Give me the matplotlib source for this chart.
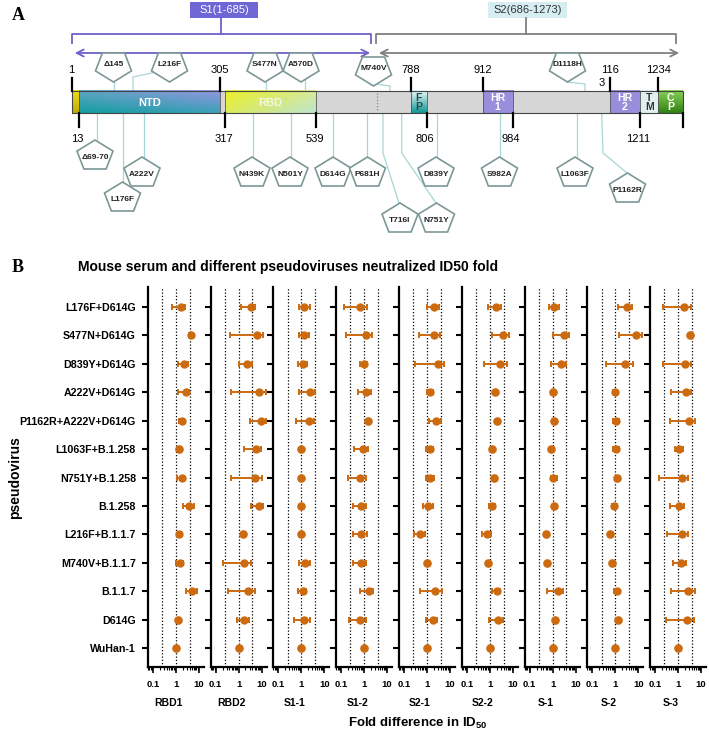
import numpy as np
import matplotlib
matplotlib.use('Agg')
import matplotlib.pyplot as plt
from matplotlib.patches import Rectangle, Polygon
from matplotlib.ticker import LogLocator, NullFormatter

plt.rcParams['font.family'] = ['Liberation Sans', 'DejaVu Sans']
plt.rcParams['mathtext.fontset'] = 'custom'
plt.rcParams['mathtext.rm'] = 'Liberation Sans'
plt.rcParams['mathtext.bf'] = 'Liberation Sans:bold'

# ---------------- panel A: spike schematic ----------------
domain_names = ['', 'NTD', '', 'RBD', '', 'F\nP', '', 'HR\n1', '', 'HR\n2', 'T\nM', 'C\nP']
domain_start = [1, 13, 305, 317, 539, 788, 806, 912, 984, 1163, 1211, 1234]
domain_end = [13, 305, 317, 539, 788, 806, 912, 984, 1163, 1211, 1234, 1273]
top_ticks = [1, 305, 788, 912, 1163, 1234]
top_tick_labels = ['1', '305', '788', '912', '116', '1234']
bottom_ticks = [13, 317, 539, 806, 984, 1211, 1273]
bottom_tick_labels = ['13', '317', '539', '806', '984', '1211', '']

muts_above = ['Δ145', 'L216F', 'S477N', 'A570D', 'M740V', 'D1118H']
muts_below = ['Δ69-70', 'A222V', 'L176F', 'N439K', 'N501Y', 'D614G', 'P681H',
              'D839Y', 'S982A', 'L1063F', 'P1162R', 'T716I', 'N751Y']

# ---------------- panel B data ----------------
pseudoviruses = ['L176F+D614G', 'S477N+D614G', 'D839Y+D614G', 'A222V+D614G',
                 'P1162R+A222V+D614G', 'L1063F+B.1.258', 'N751Y+B.1.258', 'B.1.258',
                 'L216F+B.1.1.7', 'M740V+B.1.1.7', 'B.1.1.7', 'D614G', 'WuHan-1']
sera = ['RBD1', 'RBD2', 'S1-1', 'S1-2', 'S2-1', 'S2-2', 'S-1', 'S-2', 'S-3']

rbd1_mean = [1.7, 4.6, 2.3, 2.7, 1.8, 1.4, 1.8, 3.9, 1.45, 1.55, 5.0, 1.3, 1.0]
rbd1_low = [0.72, 3.9, 1.3, 1.3, 1.45, 1.4, 1.1, 2.0, 1.25, 1.0, 2.7, 1.3, 1.0]
rbd1_high = [2.55, 5.4, 3.3, 3.9, 2.2, 1.4, 2.4, 6.3, 1.7, 2.15, 8.2, 1.3, 1.0]

rbd2_mean = [3.4, 6.3, 2.3, 7.4, 9.4, 5.5, 5.3, 7.4, 1.55, 1.8, 2.7, 1.8, 1.0]
rbd2_low = [1.26, 0.43, 1.0, 0.46, 3.2, 1.76, 0.46, 3.4, 1.55, 0.22, 0.34, 0.9, 1.0]
rbd2_high = [5.3, 12.2, 3.8, 15.4, 15.9, 9.7, 11.0, 12.2, 1.55, 3.55, 5.3, 2.9, 1.0]

s11_mean = [1.35, 1.26, 1.18, 2.3, 2.1, 1.0, 1.0, 1.0, 1.0, 1.5, 1.14, 1.35, 1.0]
s11_low = [0.82, 0.82, 0.72, 0.79, 0.6, 1.0, 1.0, 1.0, 1.0, 0.8, 0.72, 0.5, 1.0]
s11_high = [2.3, 2.1, 1.76, 3.8, 3.7, 1.0, 1.0, 1.0, 1.0, 2.4, 1.65, 2.5, 1.0]

s12_mean = [0.63, 1.18, 1.0, 1.18, 1.45, 0.88, 0.63, 0.72, 0.72, 0.72, 1.65, 0.67, 1.0]
s12_low = [0.135, 0.16, 0.63, 0.53, 1.45, 0.37, 0.2, 0.32, 0.32, 0.32, 0.67, 0.23, 1.0]
s12_high = [1.3, 2.15, 1.3, 1.9, 1.45, 1.45, 1.15, 1.18, 1.3, 1.18, 2.55, 1.18, 1.0]

s21_mean = [1.95, 2.0, 2.9, 1.3, 2.55, 1.35, 1.3, 1.12, 0.51, 0.97, 2.3, 1.8, 1.0]
s21_low = [1.0, 0.47, 0.31, 1.0, 1.18, 0.92, 0.9, 0.67, 0.28, 0.97, 0.51, 0.9, 1.0]
s21_high = [3.2, 3.7, 5.4, 1.76, 4.0, 1.9, 1.95, 1.85, 0.8, 0.97, 4.5, 2.7, 1.0]

s22_mean = [1.8, 3.9, 2.8, 1.7, 2.1, 1.26, 1.5, 1.2, 0.74, 0.82, 2.1, 2.2, 1.0]
s22_low = [0.87, 1.26, 0.57, 1.7, 2.1, 1.26, 1.5, 0.9, 0.44, 0.82, 1.26, 0.9, 1.0]
s22_high = [3.0, 6.9, 5.4, 1.7, 2.1, 1.26, 1.5, 1.7, 1.1, 0.82, 2.9, 3.8, 1.0]

s1_mean = [1.2, 3.1, 2.4, 1.03, 1.1, 0.9, 1.07, 1.14, 0.53, 0.55, 1.65, 1.26, 1.0]
s1_low = [0.7, 1.0, 0.9, 1.03, 1.1, 0.9, 0.82, 1.14, 0.53, 0.55, 0.55, 1.26, 1.0]
s1_high = [1.9, 5.1, 3.9, 1.03, 1.1, 0.9, 1.5, 1.14, 0.53, 0.55, 2.8, 1.26, 1.0]

s2_mean = [3.1, 7.9, 2.7, 1.0, 1.07, 1.07, 1.14, 0.87, 0.59, 0.69, 1.2, 1.3, 1.0]
s2_low = [1.26, 1.5, 0.39, 0.78, 0.8, 0.8, 1.14, 0.68, 0.59, 0.69, 0.9, 1.3, 1.0]
s2_high = [5.1, 14.9, 5.7, 1.2, 1.4, 1.4, 1.14, 1.15, 0.59, 0.69, 1.5, 1.3, 1.0]

s3_mean = [1.8, 3.2, 1.95, 2.15, 2.9, 1.1, 1.45, 1.1, 1.4, 1.3, 2.7, 2.5, 1.0]
s3_low = [0.22, 3.2, 0.22, 0.51, 0.46, 0.72, 0.15, 0.46, 0.33, 0.6, 0.51, 0.29, 1.0]
s3_high = [3.8, 3.2, 3.8, 3.8, 5.3, 1.65, 2.7, 1.8, 2.7, 2.15, 5.3, 4.8, 1.0]

panel_data = [(rbd1_mean, rbd1_low, rbd1_high), (rbd2_mean, rbd2_low, rbd2_high),
              (s11_mean, s11_low, s11_high), (s12_mean, s12_low, s12_high),
              (s21_mean, s21_low, s21_high), (s22_mean, s22_low, s22_high),
              (s1_mean, s1_low, s1_high), (s2_mean, s2_low, s2_high),
              (s3_mean, s3_low, s3_high)]

W, H = 709, 739
fig = plt.figure(figsize=(W / 100, H / 100), dpi=100)

# ================= panel A =================
axA = fig.add_axes([0, 1 - 245 / H, 1, 245 / H])
axA.set_xlim(0, W)
axA.set_ylim(245, 0)
axA.axis('off')

# residue -> x position in the schematic (drawing is not to scale)
res_anchor = [1, 13, 305, 317, 539, 685, 788, 806, 912, 984, 1163, 1211, 1234, 1273]
px_anchor = [71.7, 79, 219.5, 225, 316, 376.5, 411, 426.7, 482.7, 512.7, 610, 640, 658.3, 683.3]


def rx(r):
    return float(np.interp(r, res_anchor, px_anchor))


bar_top, bar_bot = 90.7, 113.3

domain_colors = {
    0: ((240, 222, 20), (240, 222, 20), (195, 172, 0), (195, 172, 0)),
    1: ((95, 165, 195), (150, 150, 225), (20, 158, 160), (60, 160, 185)),
    3: ((235, 240, 40), (215, 235, 150), (220, 235, 90), (190, 228, 205)),
    5: ((235, 250, 250), (235, 250, 250), (20, 150, 150), (20, 150, 150)),
    7: ((152, 142, 220),) * 4,
    9: ((152, 142, 220),) * 4,
    10: ((225, 240, 240),) * 4,
    11: ((135, 210, 85), (135, 210, 85), (50, 130, 20), (50, 130, 20)),
}
label_colors = {1: 'white', 3: '#f4f4e8', 5: '#2a4a4a', 7: 'white', 9: 'white',
                10: '#333333', 11: 'white'}


def grad_box(x0, x1, corners):
    tl, tr, bl, br = [np.array(c) / 255 for c in corners]
    u = np.linspace(0, 1, 40)[None, :, None]
    v = np.linspace(0, 1, 20)[:, None, None]
    img = (1 - v) * ((1 - u) * tl + u * tr) + v * ((1 - u) * bl + u * br)
    axA.imshow(img, extent=(x0, x1, bar_bot, bar_top), aspect='auto',
               interpolation='bilinear', zorder=2)


for k, (nm, s, e) in enumerate(zip(domain_names, domain_start, domain_end)):
    x0, x1 = rx(s), rx(e)
    if k in domain_colors:
        grad_box(x0, x1, domain_colors[k])
    else:
        axA.add_patch(Rectangle((x0, bar_top), x1 - x0, bar_bot - bar_top,
                                facecolor='#d6d6d6', edgecolor='none', zorder=2))
    axA.plot([x0, x0], [bar_top, bar_bot], color='#555555', lw=0.6, zorder=3)
    if nm:
        fs = 8 if '\n' not in nm else 7.5
        axA.text((x0 + x1) / 2, (bar_top + bar_bot) / 2 + 0.5, nm, ha='center',
                 va='center', fontsize=fs, fontweight='bold', linespacing=0.95,
                 color=label_colors[k], zorder=4)
axA.add_patch(Rectangle((rx(1), bar_top), rx(1273) - rx(1), bar_bot - bar_top,
                        facecolor='none', edgecolor='#444444', lw=0.8, zorder=3))
axA.plot([rx(685)] * 2, [bar_top + 2, bar_bot - 2], color='#888888', lw=0.9,
         ls=(0, (1, 1.5)), zorder=4)
axA.set_xlim(0, W)
axA.set_ylim(245, 0)

for r, lab in zip(top_ticks, top_tick_labels):
    x = rx(r)
    axA.plot([x, x], [78, 91], color='black', lw=1.6, zorder=5)
    axA.text(x, 70, lab, ha='center', va='center', fontsize=8)
axA.text(rx(1163) - 8, 83, '3', ha='center', va='center', fontsize=8)
for r, lab in zip(bottom_ticks, bottom_tick_labels):
    x = rx(r)
    axA.plot([x, x], [113, 127], color='black', lw=1.6, zorder=5)
    axA.text(x - 1.5, 138.5, lab, ha='center', va='center', fontsize=8)

# S1 / S2 headers
s1c, s2c = '#6c62c8', '#808080'
axA.add_patch(Rectangle((190, 2), 68, 15.5, facecolor='#6e66d4', edgecolor='none'))
axA.text(224, 10, 'S1(1-685)', ha='center', va='center', fontsize=8, color='white')
axA.add_patch(Rectangle((488, 2), 79, 15.5, facecolor='#d6eef2', edgecolor='none'))
axA.text(527.5, 10, 'S2(686-1273)', ha='center', va='center', fontsize=8, color='#333333')
axA.plot([72, 72, 371, 371], [43, 34, 34, 43], color=s1c, lw=1.3)
axA.plot([221, 221], [17.5, 34], color=s1c, lw=1.3)
axA.plot([376, 376, 676, 676], [43, 34, 34, 43], color=s2c, lw=1.3)
axA.plot([526, 526], [17.5, 34], color=s2c, lw=1.3)
axA.annotate('', xy=(72, 53), xytext=(373, 53),
             arrowprops=dict(arrowstyle='<->,head_length=0.5,head_width=0.25', color=s1c, lw=1.3))
axA.annotate('', xy=(376, 53), xytext=(682, 53),
             arrowprops=dict(arrowstyle='<->,head_length=0.5,head_width=0.25', color=s2c, lw=1.3))

# mutation pentagons
pent = np.array([[0, 1], [-0.951, 0.309], [-0.588, -0.809], [0.588, -0.809], [0.951, 0.309]])
pw, ph = 36, 29
line_c = '#a6d6d6'


def pentagon(cx, y_edge, name, down):
    sx, sy = pw / 1.902, ph / 1.809
    if down:
        cy = y_edge + 0.809 * sy
        v = np.column_stack([cx + pent[:, 0] * sx, cy + pent[:, 1] * sy])
        ty = y_edge + ph * 0.4
    else:
        cy = y_edge + 1.0 * sy
        v = np.column_stack([cx + pent[:, 0] * sx, cy - pent[:, 1] * sy])
        ty = y_edge + ph * 0.6
    axA.add_patch(Polygon(v, closed=True, facecolor='white', edgecolor='#7d9797',
                          lw=1.2, zorder=6))
    axA.text(cx, ty, name, ha='center', va='center', fontsize=6,
             fontweight='bold', color='#222222', zorder=7)


above_x = [113.5, 169.5, 265, 301, 373.5, 567.5]
above_y = [53, 53, 53, 53, 57, 53]
above_lines = [[(114, 82), (114, 91)], [(156, 72), (133, 77), (133, 91)],
               [(266, 82), (266, 91)], [(305, 80), (305, 91)],
               [(375, 84), (390, 86), (390, 91)], [(567, 82), (585, 84), (585, 91)]]
below_x = [95, 142, 122.5, 252, 290, 333, 367.5, 436, 499.5, 575, 627.5, 400, 436.5]
below_y = [140, 157, 182, 157, 157, 157, 157, 157, 157, 157, 173, 203, 203]
below_lines = [[(97, 113), (97, 140)], [(144, 113), (144, 157)], [(123, 113), (123, 182)],
               [(253, 113), (253, 157)], [(291, 113), (291, 157)], [(333, 113), (333, 157)],
               [(367, 113), (367, 157)], [(436.7, 113), (436.7, 157)], [(500, 113), (500, 157)],
               [(576.7, 113), (576.7, 157)], [(601.7, 113), (603, 153), (627, 173)],
               [(383, 113), (383, 153), (399, 203)], [(401.7, 113), (401.7, 153), (436, 203)]]

for name, x, y, ln in zip(muts_above, above_x, above_y, above_lines):
    xs, ys = zip(*ln)
    axA.plot(xs, ys, color=line_c, lw=0.9, zorder=1)
    pentagon(x, y, name, True)
for name, x, y, ln in zip(muts_below, below_x, below_y, below_lines):
    xs, ys = zip(*ln)
    axA.plot(xs, ys, color=line_c, lw=0.9, zorder=1)
    pentagon(x, y, name, False)

fig.text(12 / W, 1 - 15 / H, 'A', family='Liberation Serif', fontweight='bold',
         fontsize=13, va='center')

# ================= panel B =================
orange = '#cc6a10'
bottom_px, top_px = 666.7, 287
rows = np.arange(len(pseudoviruses))[::-1]

for i, serum in enumerate(sera):
    left = 147.7 + i * 62.8
    ax = fig.add_axes([left / W, 1 - bottom_px / H, 56 / W, (bottom_px - top_px) / H])
    ax.set_xscale('log')
    ax.set_xlim(0.06, 16.5)
    ax.set_ylim(-0.65, 12.7)
    for v in [0.25, 1, 4]:
        ax.axvline(v, color='black', lw=0.9, ls=(0, (1, 1.6)), zorder=1)
    mean, low, high = [np.array(a) for a in panel_data[i]]
    has_err = high > low
    ax.errorbar(mean[has_err], rows[has_err],
                xerr=[mean[has_err] - low[has_err], high[has_err] - mean[has_err]],
                fmt='o', color=orange, ms=5, elinewidth=1.4, capsize=2,
                capthick=1.4, zorder=3)
    ax.plot(mean[~has_err], rows[~has_err], 'o', color=orange, ms=5.2, zorder=3)

    for s in ['top', 'right']:
        ax.spines[s].set_visible(False)
    for s in ['left', 'bottom']:
        ax.spines[s].set_linewidth(1.6)
    ax.set_yticks(rows)
    if i == 0:
        ax.set_yticklabels(pseudoviruses, fontsize=7.7, fontweight='bold')
    else:
        ax.set_yticklabels([])
    ax.tick_params(axis='y', length=4.5, width=1.5, pad=4)
    ax.set_xticks([0.1, 1, 10])
    ax.set_xticklabels(['0.1', '1', '10'], fontsize=6.8, fontweight='bold')
    ax.xaxis.set_minor_locator(LogLocator(base=10, subs=np.arange(2, 10)))
    ax.xaxis.set_minor_formatter(NullFormatter())
    ax.tick_params(axis='x', which='major', length=4, width=1.2, pad=5.5)
    ax.tick_params(axis='x', which='minor', length=2.2, width=0.8)
    fig.text((left + 21) / W, 1 - 703 / H, serum, ha='center', va='center',
             fontsize=7.5, fontweight='bold')

fig.text(12 / W, 1 - 268 / H, 'B', family='Liberation Serif', fontweight='bold',
         fontsize=13, va='center')
fig.text(288 / W, 1 - 266.7 / H, 'Mouse serum and different pseudoviruses neutralized ID50 fold',
         ha='center', va='center', fontsize=10, fontweight='bold')
fig.text(418 / W, 1 - 723 / H, r'Fold difference in ID$_{\mathbf{50}}$', ha='center',
         va='center', fontsize=9.5, fontweight='bold')
fig.text(15 / W, 1 - 478 / H, 'pseudovirus', rotation=90, ha='center', va='center',
         fontsize=10, fontweight='bold')

fig.savefig('out.png', dpi=100)
